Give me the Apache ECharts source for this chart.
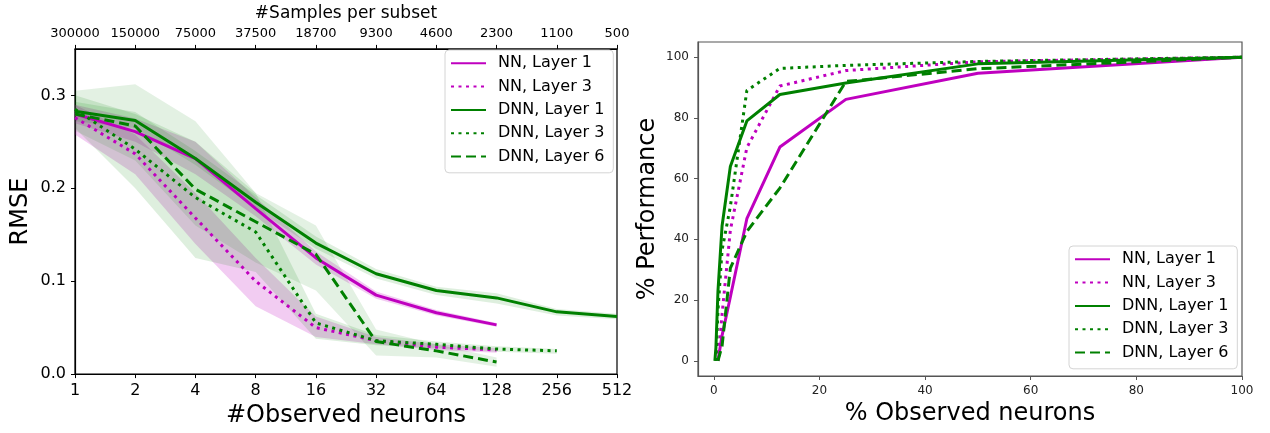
<!DOCTYPE html>
<html><head><meta charset="utf-8">
<script src="https://cdn.jsdelivr.net/npm/echarts@6/dist/echarts.min.js"></script>
<style>html,body{margin:0;padding:0;background:#fff}#c{width:1270px;height:433px}</style>
</head><body><div id="c"></div>
<script>
// ---------- Left panel: RMSE vs #observed neurons ----------
const neuronCounts = ['1','2','4','8','16','32','64','128','256','512'];
const samplesPerSubset = ['300000','150000','75000','37500','18700','9300','4600','2300','1100','500'];
const rmseTicks = [0, 0.1, 0.2, 0.3];

const nnL1   = [0.280, 0.261, 0.232, 0.178, 0.125, 0.085, 0.066, 0.053];
const nnL1Lo = [0.270, 0.250, 0.215, 0.170, 0.118, 0.081, 0.063, 0.051];
const nnL1Hi = [0.290, 0.275, 0.250, 0.190, 0.132, 0.089, 0.069, 0.055];

const nnL3   = [0.276, 0.237, 0.168, 0.100, 0.050, 0.036, 0.029, 0.026];
const nnL3Lo = [0.258, 0.215, 0.140, 0.073, 0.040, 0.032, 0.026, 0.023];
const nnL3Hi = [0.290, 0.258, 0.195, 0.125, 0.062, 0.040, 0.032, 0.028];

const dnnL1   = [0.283, 0.273, 0.232, 0.185, 0.141, 0.108, 0.090, 0.082, 0.067, 0.062];
const dnnL1Lo = [0.272, 0.265, 0.225, 0.178, 0.135, 0.103, 0.085, 0.076, 0.063, 0.059];
const dnnL1Hi = [0.293, 0.282, 0.240, 0.193, 0.148, 0.113, 0.094, 0.087, 0.070, 0.065];

const dnnL3   = [0.285, 0.242, 0.190, 0.153, 0.055, 0.036, 0.032, 0.027, 0.025];
const dnnL3Lo = [0.265, 0.200, 0.125, 0.110, 0.038, 0.031, 0.028, 0.024, 0.022];
const dnnL3Hi = [0.300, 0.280, 0.250, 0.195, 0.065, 0.042, 0.035, 0.030, 0.027];

const dnnL6   = [0.280, 0.267, 0.199, 0.164, 0.129, 0.035, 0.025, 0.013];
const dnnL6Lo = [0.262, 0.230, 0.160, 0.120, 0.090, 0.020, 0.018, 0.008];
const dnnL6Hi = [0.305, 0.312, 0.272, 0.195, 0.160, 0.048, 0.032, 0.018];

// ---------- Right panel: % performance vs % observed neurons ----------
const pctTicks = [0, 20, 40, 60, 80, 100];
const pctObs128 = [0.78, 1.56, 3.125, 6.25, 12.5, 25, 50, 100];
const pctObs256 = [0.39, 0.78, 1.56, 3.125, 6.25, 12.5, 25, 50, 100];
const pctObs512 = [0.195, 0.39, 0.78, 1.56, 3.125, 6.25, 12.5, 25, 50, 100];

const perfNnL1  = [0, 8.4, 21, 46.8, 70.4, 86.1, 94.7, 100];
const perfNnL3  = [0, 15.4, 43, 70.2, 90.5, 95.6, 98.5, 100];
const perfDnnL1 = [0, 4.3, 23, 44.5, 64, 79, 87.7, 91.5, 97.8, 100];
const perfDnnL3 = [0, 16.5, 36.5, 50.8, 89, 96.3, 97.3, 98.6, 100];
const perfDnnL6 = [0, 4.9, 30.5, 42.6, 56.9, 92, 96.2, 100];

const names = ['NN, Layer 1', 'NN, Layer 3', 'DNN, Layer 1', 'DNN, Layer 3', 'DNN, Layer 6'];
// ---------------------------------------------------------------

const MAG = '#bf00bf', GRN = '#008000';
const FONT = 'DejaVu Sans';
const DOT = [3, 4.5], DASH = [10, 5];

function line(name, data, color, type, xi, yi) {
  return {
    name, type: 'line', data, xAxisIndex: xi, yAxisIndex: yi,
    symbol: 'none', z: 5,
    lineStyle: { color, width: 3, type, cap: 'butt' },
    itemStyle: { color }
  };
}
function band(id, lo, hi, color, opacity) {
  const diff = hi.map((v, i) => v - lo[i]);
  return [
    { name: 'lo' + id, type: 'line', data: lo, stack: 'band' + id, symbol: 'none', silent: true,
      xAxisIndex: 0, yAxisIndex: 0, lineStyle: { opacity: 0 }, z: 1 },
    { name: 'hi' + id, type: 'line', data: diff, stack: 'band' + id, symbol: 'none', silent: true,
      xAxisIndex: 0, yAxisIndex: 0, lineStyle: { opacity: 0 },
      areaStyle: { color, opacity }, z: 1 }
  ];
}
function xy(xs, ys) { return xs.map((x, i) => [x, ys[i]]); }

const legendCommon = {
  orient: 'vertical', data: names, itemWidth: 35, itemHeight: 14, itemGap: 7.3,
  padding: [5.3, 9, 8.3, 5],
  borderColor: '#d4d4d4', borderWidth: 1, borderRadius: 4,
  backgroundColor: 'rgba(255,255,255,0.8)',
  itemStyle: { opacity: 0, borderWidth: 0, color: 'rgba(0,0,0,0)' },
  textStyle: { fontFamily: FONT, fontSize: 16, lineHeight: 16, color: '#000', padding: [0, 0, 0, 7] }
};

const chart = echarts.init(document.getElementById('c'), null, { renderer: 'canvas' });
chart.setOption({
  animation: false,
  backgroundColor: '#fff',
  textStyle: { fontFamily: FONT },
  grid: [
    { left: 75, right: 653, top: 41, bottom: 57, show: true, borderColor: '#000', borderWidth: 1.2, backgroundColor: 'transparent' },
    { left: 698, right: 28, top: 42, bottom: 57, show: true, borderColor: '#555', borderWidth: 1.2, backgroundColor: 'transparent' }
  ],
  legend: [
    Object.assign({ left: 445, top: 50 }, legendCommon),
    Object.assign({ left: 1069, top: 246 }, legendCommon)
  ],
  xAxis: [
    { type: 'category', gridIndex: 0, data: neuronCounts, boundaryGap: false, position: 'bottom',
      axisLine: { lineStyle: { color: '#000', width: 1.2 } },
      axisTick: { alignWithLabel: true, interval: 0, length: 4, lineStyle: { color: '#000' } },
      axisLabel: { fontSize: 16, color: '#000', margin: 9, interval: 0, fontFamily: FONT },
      name: '#Observed neurons', nameLocation: 'middle', nameGap: 26,
      nameTextStyle: { fontSize: 24, color: '#000', fontFamily: FONT }, splitLine: { show: false } },
    { type: 'category', gridIndex: 0, data: samplesPerSubset, boundaryGap: false, position: 'top',
      axisLine: { lineStyle: { color: '#000', width: 1.2 } },
      axisTick: { alignWithLabel: true, interval: 0, length: 4, lineStyle: { color: '#000' } },
      axisLabel: { fontSize: 13, color: '#000', margin: 9, interval: 0, fontFamily: FONT },
      name: '#Samples per subset', nameLocation: 'middle', nameGap: 25,
      nameTextStyle: { fontSize: 17, color: '#000', fontFamily: FONT }, splitLine: { show: false } },
    { type: 'value', gridIndex: 1, min: -3, max: 100,
      axisLine: { onZero: false, lineStyle: { color: '#555', width: 1.2 } },
      axisTick: { show: true, length: 4, customValues: pctTicks, lineStyle: { color: '#555' } },
      axisLabel: { fontSize: 12, color: '#222', margin: 9, customValues: pctTicks, fontFamily: FONT },
      splitLine: { show: false },
      name: '% Observed neurons', nameLocation: 'middle', nameGap: 22,
      nameTextStyle: { fontSize: 24, color: '#000', fontFamily: FONT } }
  ],
  yAxis: [
    { type: 'value', gridIndex: 0, min: 0, max: 0.35,
      axisLine: { show: true, lineStyle: { color: '#000', width: 1.2 } },
      axisTick: { show: true, length: 4, customValues: rmseTicks, lineStyle: { color: '#000' } },
      axisLabel: { fontSize: 16, color: '#000', margin: 9, customValues: rmseTicks, fontFamily: FONT,
        formatter: v => v.toFixed(1) },
      splitLine: { show: false },
      name: 'RMSE', nameLocation: 'middle', nameGap: 42,
      nameTextStyle: { fontSize: 24, color: '#000', fontFamily: FONT } },
    { type: 'value', gridIndex: 1, min: -5, max: 105,
      axisLine: { show: true, onZero: false, lineStyle: { color: '#555', width: 1.2 } },
      axisTick: { show: true, length: 4, customValues: pctTicks, lineStyle: { color: '#555' } },
      axisLabel: { fontSize: 12, color: '#222', margin: 9, customValues: pctTicks, fontFamily: FONT },
      splitLine: { show: false },
      name: '% Performance', nameLocation: 'middle', nameGap: 38,
      nameTextStyle: { fontSize: 24, color: '#000', fontFamily: FONT } }
  ],
  series: [
    ...band('nn1', nnL1Lo, nnL1Hi, MAG, 0.2),
    ...band('nn3', nnL3Lo, nnL3Hi, MAG, 0.2),
    ...band('dnn1', dnnL1Lo, dnnL1Hi, GRN, 0.13),
    ...band('dnn3', dnnL3Lo, dnnL3Hi, GRN, 0.13),
    ...band('dnn6', dnnL6Lo, dnnL6Hi, GRN, 0.11),
    line(names[0], nnL1, MAG, 'solid', 0, 0),
    line(names[1], nnL3, MAG, DOT, 0, 0),
    line(names[2], dnnL1, GRN, 'solid', 0, 0),
    line(names[3], dnnL3, GRN, DOT, 0, 0),
    line(names[4], dnnL6, GRN, DASH, 0, 0),
    line(names[0], xy(pctObs128, perfNnL1), MAG, 'solid', 2, 1),
    line(names[1], xy(pctObs128, perfNnL3), MAG, DOT, 2, 1),
    line(names[2], xy(pctObs512, perfDnnL1), GRN, 'solid', 2, 1),
    line(names[3], xy(pctObs256, perfDnnL3), GRN, DOT, 2, 1),
    line(names[4], xy(pctObs128, perfDnnL6), GRN, DASH, 2, 1)
  ]
});
</script></body></html>
